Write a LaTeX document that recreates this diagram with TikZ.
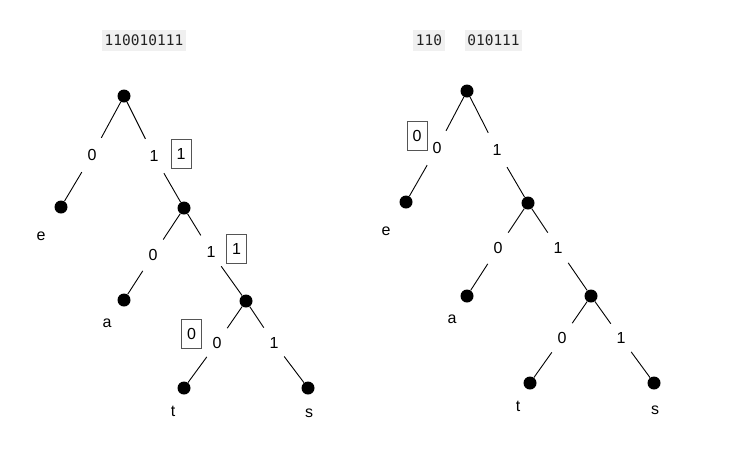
\documentclass[tikz,border=0pt]{standalone}
\usepackage{fontspec}
\setmainfont{Liberation Sans}
\newfontfamily\codefont{DejaVu Sans Mono}
\definecolor{codebg}{HTML}{F0F0F0}
\definecolor{boxgray}{HTML}{555555}
\definecolor{codetext}{HTML}{222222}
\begin{document}
\begin{tikzpicture}[x=1pt,y=-1pt,
  dot/.style={circle,fill=black,minimum size=13pt,inner sep=0},
  lab/.style={font=\fontsize{16}{19}\selectfont,inner sep=0,minimum width=20pt,minimum height=34pt},
  leaf/.style={font=\fontsize{16}{19}\selectfont},
  bit/.style={draw=boxgray,line width=1pt,font=\fontsize{16}{19}\selectfont,minimum width=20pt,minimum height=29pt,inner sep=0},
  code/.style={fill=codebg,text=codetext,font=\codefont\fontsize{14.5}{17}\selectfont,inner xsep=2.5pt,inner ysep=5pt},
  edge/.style={line width=0.9pt}]
\useasboundingbox (0,0) rectangle (734,456);
% codes
\node[code] (c1) at (144,40.5) {110010111};
\node[code] (c2) at (429,40.5) {110};
\node[code] (c3) at (493.5,40.5) {010111};
% left tree
\node[dot] (r) at (124,96) {};
\node[dot] (e) at (61,207) {};
\node[dot] (n2) at (184,208) {};
\node[dot] (a) at (124,300) {};
\node[dot] (n3) at (246,301) {};
\node[dot] (t) at (184,388) {};
\node[dot] (s) at (308,388) {};
\node[lab] (l1) at (92,155) {0};
\node[lab] (l2) at (154,156) {1};
\node[lab] (l3) at (153,255) {0};
\node[lab] (l4) at (211,252) {1};
\node[lab] (l5) at (217,343) {0};
\node[lab] (l6) at (274,343) {1};
\draw[edge] (r) -- (l1) -- (e);
\draw[edge] (r) -- (l2) -- (n2);
\draw[edge] (n2) -- (l3) -- (a);
\draw[edge] (n2) -- (l4) -- (n3);
\draw[edge] (n3) -- (l5) -- (t);
\draw[edge] (n3) -- (l6) -- (s);
\node[leaf] (te) at (41,236) {e};
\node[leaf] (ta) at (107,323) {a};
\node[leaf] (tt) at (173,411) {t};
\node[leaf] (ts) at (309,413) {s};
\node[bit] (b1) at (181,154) {1};
\node[bit] (b2) at (236.5,248.5) {1};
\node[bit] (b3) at (191.5,333.5) {0};
% right tree
\node[dot] (R) at (467,91) {};
\node[dot] (E) at (406,202) {};
\node[dot] (N2) at (528,203) {};
\node[dot] (A) at (467,296) {};
\node[dot] (N3) at (591,296) {};
\node[dot] (T) at (530,383) {};
\node[dot] (S) at (654,383) {};
\node[lab] (L1) at (437,148) {0};
\node[lab] (L2) at (497,150) {1};
\node[lab] (L3) at (498,248) {0};
\node[lab] (L4) at (558,248) {1};
\node[lab] (L5) at (562,338) {0};
\node[lab] (L6) at (621,338) {1};
\draw[edge] (R) -- (L1) -- (E);
\draw[edge] (R) -- (L2) -- (N2);
\draw[edge] (N2) -- (L3) -- (A);
\draw[edge] (N2) -- (L4) -- (N3);
\draw[edge] (N3) -- (L5) -- (T);
\draw[edge] (N3) -- (L6) -- (S);
\node[leaf] (TE) at (386,231) {e};
\node[leaf] (TA) at (452,319) {a};
\node[leaf] (TT) at (518,406) {t};
\node[leaf] (TS) at (655,410) {s};
\node[bit] (B1) at (417,135.5) {0};
\end{tikzpicture}
\end{document}
